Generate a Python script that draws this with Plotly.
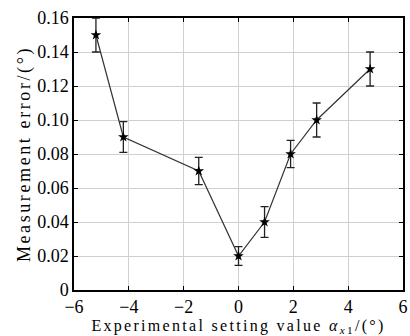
import plotly.graph_objects as go

x_vals = [-5.2, -4.2, -1.45, 0.0, 0.95, 1.9, 2.85, 4.8]
y_vals = [0.15, 0.09, 0.07, 0.02, 0.04, 0.08, 0.10, 0.13]
err_vals = [0.01, 0.009, 0.008, 0.0055, 0.009, 0.008, 0.01, 0.01]
x_ticks = [-6, -4, -2, 0, 2, 4, 6]
x_tick_text = ["\u22126", "\u22124", "\u22122", "0", "2", "4", "6"]
y_ticks = [0, 0.02, 0.04, 0.06, 0.08, 0.10, 0.12, 0.14, 0.16]
y_tick_text = ["0", "0.02", "0.04", "0.06", "0.08", "0.10", "0.12", "0.14", "0.16"]

fig = go.Figure()
fig.add_trace(go.Scatter(
    x=x_vals, y=y_vals, mode="lines+markers",
    line=dict(color="#333333", width=1.2),
    marker=dict(symbol="star", size=8, color="black"),
    error_y=dict(type="data", array=err_vals, visible=True, color="#222222", thickness=1.3, width=4),
    showlegend=False, cliponaxis=False,
))

font = dict(family="Liberation Serif, Times New Roman, serif", color="black")
fig.update_layout(
    width=410, height=336,
    margin=dict(l=74, r=5, t=18, b=46),
    paper_bgcolor="white", plot_bgcolor="white",
    font=dict(size=17, **font),
    xaxis=dict(
        range=[-6, 6], tickvals=x_ticks, ticktext=x_tick_text,
        showgrid=True, gridcolor="#d0d0d0", gridwidth=1,
        showline=True, linecolor="black", linewidth=1.5, mirror="ticks",
        ticks="inside", ticklen=4, tickcolor="black",
        zeroline=False, tickfont=dict(size=18, **font),
        title=dict(text="Experimental setting value <i>\u03b1</i><sub><i>x</i>1</sub>/(\u00b0)", font=dict(size=16, **font), standoff=7),
        automargin=False,
    ),
    yaxis=dict(
        range=[0, 0.16], tickvals=y_ticks, ticktext=y_tick_text,
        showgrid=True, gridcolor="#d0d0d0", gridwidth=1,
        showline=True, linecolor="black", linewidth=1.5, mirror="ticks",
        ticks="inside", ticklen=4, tickcolor="black",
        zeroline=False, tickfont=dict(size=18, **font),
        title=dict(text="Measurement error/(\u00b0)", font=dict(size=18, **font), standoff=2),
    ),
)

post = """
var gd = document.getElementsByClassName('plotly-graph-div')[0];
function sp(){
  gd.querySelectorAll('.g-xtitle text').forEach(function(e){e.style.letterSpacing='2.3px';});
  gd.querySelectorAll('.g-ytitle text').forEach(function(e){e.style.letterSpacing='2.6px';});
}
sp();
gd.on('plotly_afterplot', sp);
"""
fig.write_html("out.html", post_script=post)
